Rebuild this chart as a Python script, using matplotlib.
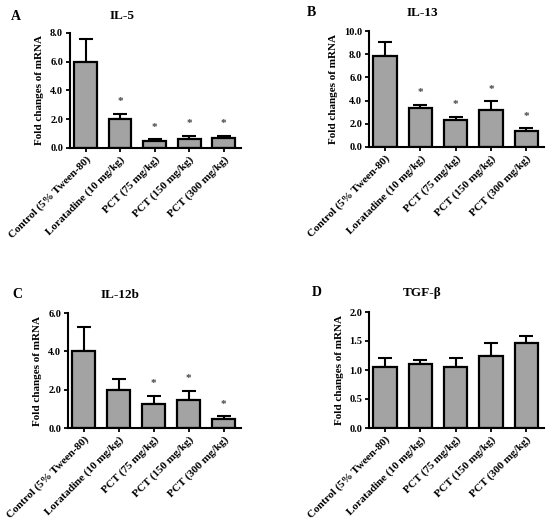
import matplotlib
matplotlib.use("Agg")
import matplotlib.pyplot as plt

plt.rcParams['font.family'] = ['Liberation Serif', 'DejaVu Serif']
plt.rcParams['font.weight'] = 'bold'

categories = ["Control (5% Tween-80)", "Loratadine (10 mg/kg)", "PCT (75 mg/kg)",
              "PCT (150 mg/kg)", "PCT (300 mg/kg)"]

il5_mean = [5.98, 2.05, 0.51, 0.63, 0.70]
il5_top = [7.59, 2.39, 0.63, 0.81, 0.86]
il5_star = [None, 3.25, 1.44, 1.67, 1.67]

il13_mean = [7.87, 3.37, 2.30, 3.23, 1.35]
il13_top = [9.05, 3.60, 2.59, 3.95, 1.61]
il13_star = [None, 4.67, 3.66, 4.96, 2.65]

il12b_mean = [4.00, 2.00, 1.25, 1.48, 0.49]
il12b_top = [5.27, 2.56, 1.67, 1.95, 0.64]
il12b_star = [None, None, 2.31, 2.57, 1.25]

tgfb_mean = [1.06, 1.10, 1.05, 1.24, 1.47]
tgfb_top = [1.21, 1.18, 1.21, 1.47, 1.58]
tgfb_star = [None, None, None, None, None]

panels = [
    ("A", "IL-5", il5_mean, il5_top, il5_star, 8.0, [0, 2, 4, 6, 8], "{:.1f}"),
    ("B", "IL-13", il13_mean, il13_top, il13_star, 10.0, [0, 2, 4, 6, 8, 10], "{:.1f}"),
    ("C", "IL-12b", il12b_mean, il12b_top, il12b_star, 6.0, [0, 2, 4, 6], "{:.1f}"),
    ("D", "TGF-β", tgfb_mean, tgfb_top, tgfb_star, 2.0, [0, 0.5, 1.0, 1.5, 2.0], "{:.1f}"),
]

W, H = 550, 530
fig = plt.figure(figsize=(5.5, 5.3), dpi=100)

# axes pixel boxes: left, right, top, bottom
boxes = [(70, 241, 33, 148), (369, 544, 31, 147), (68, 241, 313, 428), (369, 544, 312, 428)]
letters_pos = [(16, 16), (311, 13), (17, 295), (317, 293)]
titles_pos = [(122, 16), (422, 13), (120, 295), (422, 293)]

for (letter, title, mean, top, star, ymax, yt, fmt), (l, r, t, b), lp, tp in zip(
        panels, boxes, letters_pos, titles_pos):
    ax = fig.add_axes([l / W, 1 - b / H, (r - l) / W, (b - t) / H])
    x = list(range(len(categories)))
    err = [tp_ - m for tp_, m in zip(top, mean)]
    ax.bar(x, mean, width=0.66, color='#a3a3a3', edgecolor='black', linewidth=1.6, zorder=2)
    ax.errorbar(x, mean, yerr=[[0] * len(mean), err], fmt='none', ecolor='black',
                elinewidth=1.5, capsize=4.7, capthick=1.5, zorder=1)
    for xi, s in zip(x, star):
        if s is not None:
            ax.text(xi, s, "*", ha='center', va='center', fontsize=8, color='#444444')
    ax.set_xlim(-0.45, 4.5)
    ax.set_ylim(0, ymax)
    ax.set_yticks(yt)
    ax.set_yticklabels([fmt.format(v) for v in yt], fontsize=7.5, fontweight='bold')
    ax.set_xticks(x)
    ax.set_xticklabels(categories, rotation=45, ha='right', rotation_mode='anchor',
                       fontsize=8, fontweight='bold')
    for sp in ['top', 'right']:
        ax.spines[sp].set_visible(False)
    for sp in ['left', 'bottom']:
        ax.spines[sp].set_linewidth(1.5)
    ax.tick_params(axis='both', direction='out', length=3, width=1.3, pad=2)
    ax.set_ylabel("Fold changes of mRNA", fontsize=8, fontweight='bold', labelpad=4)
    fig.text(lp[0] / W, 1 - lp[1] / H, letter, fontsize=10, fontweight='bold',
             ha='center', va='center')
    fig.text(tp[0] / W, 1 - tp[1] / H, title, fontsize=9.5, fontweight='bold',
             ha='center', va='center')

fig.savefig("out.png", dpi=100)
